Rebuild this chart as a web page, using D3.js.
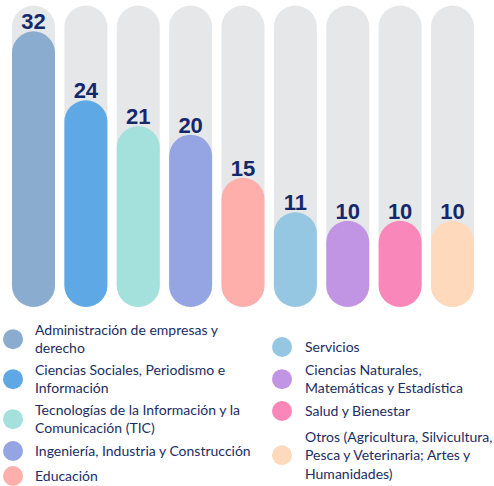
<!DOCTYPE html>
<html>
<head>
<meta charset="utf-8">
<script src="https://cdn.jsdelivr.net/npm/d3@7"></script>
<style>
    body { margin: 0; background: #fff; }
    svg { display: block; }
</style>
</head>
<body>
<script>
// Data
var categories = [
    "Administración de empresas y derecho",
    "Ciencias Sociales, Periodismo e Información",
    "Tecnologías de la Información y la Comunicación (TIC)",
    "Ingeniería, Industria y Construcción",
    "Educación",
    "Servicios",
    "Ciencias Naturales, Matemáticas y Estadística",
    "Salud y Bienestar",
    "Otros (Agricultura, Silvicultura, Pesca y Veterinaria; Artes y Humanidades)"
];
var values = [32, 24, 21, 20, 15, 11, 10, 10, 10];
var colors = ["#8aadcf", "#5fa8e6", "#a4e1dd", "#95a5e3", "#feaeab",
              "#95c7e3", "#c195e3", "#fa87ba", "#fed9bb"];

// Legend lines, as wrapped in the picture
var legendLines = [
    ["Administración de empresas y", "derecho"],
    ["Ciencias Sociales, Periodismo e", "Información"],
    ["Tecnologías de la Información y la", "Comunicación (TIC)"],
    ["Ingeniería, Industria y Construcción"],
    ["Educación"],
    ["Servicios"],
    ["Ciencias Naturales,", "Matemáticas y Estadística"],
    ["Salud y Bienestar"],
    ["Otros (Agricultura, Silvicultura,", "Pesca y Veterinaria; Artes y",
     "Humanidades)"]
];

var W = 494, H = 486;
var navy = "#13296b";

var svg = d3.select("body").append("svg")
    .attr("width", W)
    .attr("height", H);

var xScale = d3.scaleBand()
    .domain(categories)
    .range([12, 474])
    .paddingInner(0.179)
    .paddingOuter(0);

var yScale = d3.scaleLinear()
    .domain([0, 35])
    .range([307, 5.5]);

var bw = xScale.bandwidth();
var r = bw / 2;

// pill shape from top y to bottom y
function pill(x, top, bottom) {
    var h = bottom - top;
    var rr = Math.min(r, h / 2);
    return "M" + x + "," + (top + rr) +
        "A" + rr + "," + rr + " 0 0 1 " + (x + bw) + "," + (top + rr) +
        "L" + (x + bw) + "," + (bottom - rr) +
        "A" + rr + "," + rr + " 0 0 1 " + x + "," + (bottom - rr) + "Z";
}

var data = categories.map(function(c, i) {
    return {cat: c, value: values[i], color: colors[i]};
});

// grey tracks
svg.selectAll("path.track")
    .data(data)
    .enter()
    .append("path")
    .attr("class", "track")
    .attr("d", function(d) {
        return pill(xScale(d.cat), yScale(35), yScale(0));
    })
    .attr("fill", "#e6e7e9");

// value bars
svg.selectAll("path.bar")
    .data(data)
    .enter()
    .append("path")
    .attr("class", "bar")
    .attr("d", function(d) {
        return pill(xScale(d.cat), yScale(d.value), yScale(0));
    })
    .attr("fill", function(d) { return d.color; });

// value labels
svg.selectAll("text.val")
    .data(data)
    .enter()
    .append("text")
    .attr("class", "val")
    .attr("x", function(d) { return xScale(d.cat) + r; })
    .attr("y", function(d) { return yScale(d.value) - 2; })
    .attr("text-anchor", "middle")
    .attr("font-family", "'Liberation Sans', Arial, sans-serif")
    .attr("font-weight", "bold")
    .attr("font-size", "22px")
    .attr("fill", navy)
    .text(function(d) { return d.value; });

// legend in two columns, first-line y of each item as placed in the picture
var lineH = 18.3;
var cols = [
    {items: [0, 1, 2, 3, 4], top: [330, 370, 410, 451, 476], cx: 13, tx: 35},
    {items: [5, 6, 7, 8], top: [347, 370, 411, 437], cx: 282, tx: 305}
];

cols.forEach(function(col) {
    col.items.forEach(function(i, k) {
        var lines = legendLines[i];
        var y = col.top[k];
        var g = svg.append("g");
        var mid = y + (lines.length - 1) * lineH / 2;
        g.append("circle")
            .attr("cx", col.cx)
            .attr("cy", mid)
            .attr("r", 10)
            .attr("fill", colors[i]);
        g.selectAll("text")
            .data(lines)
            .enter()
            .append("text")
            .attr("x", col.tx)
            .attr("y", function(d, j) { return y + j * lineH; })
            .attr("dy", "0.35em")
            .attr("font-family", "Lato, 'Open Sans', sans-serif")
            .attr("font-size", "14px")
            .attr("fill", "#1c2d63")
            .text(function(d) { return d; });
    });
});
</script>
</body>
</html>
